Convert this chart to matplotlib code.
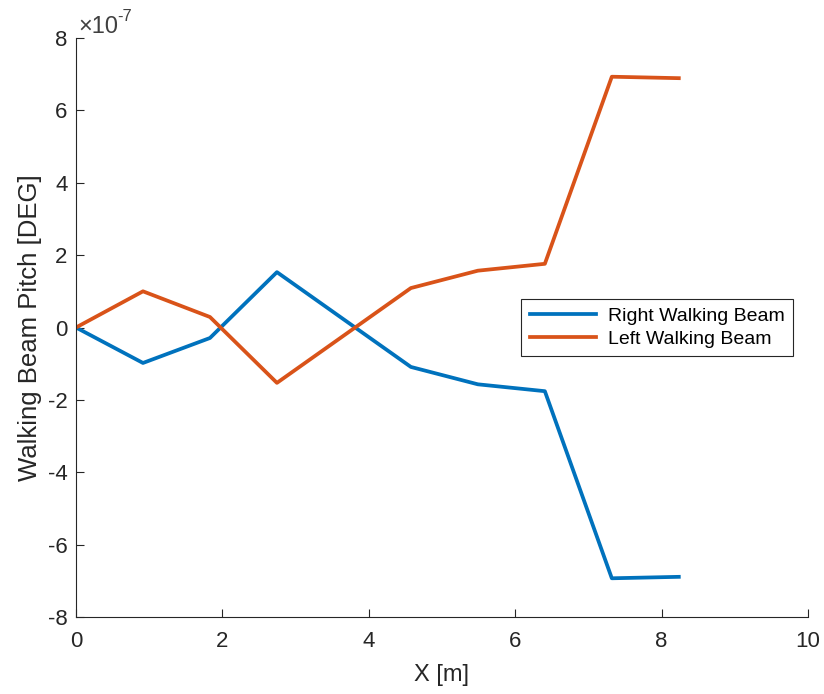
import matplotlib
matplotlib.use('Agg')
import matplotlib.pyplot as plt
from matplotlib.ticker import FuncFormatter

# data
x_m = [0, 0.915, 1.83, 2.745, 4.575, 5.49, 6.405, 7.32, 8.235]
right_beam = [0, -0.98e-7, -0.29e-7, 1.53e-7, -1.09e-7, -1.57e-7, -1.76e-7, -6.93e-7, -6.89e-7]
left_beam = [0, 1.0e-7, 0.29e-7, -1.53e-7, 1.09e-7, 1.57e-7, 1.76e-7, 6.93e-7, 6.89e-7]

plt.rcParams['font.family'] = ['Liberation Sans', 'DejaVu Sans']
plt.rcParams['axes.unicode_minus'] = False

W, H = 824, 694
fig = plt.figure(figsize=(W / 100, H / 100), dpi=100)
ax = fig.add_axes([76 / W, 1 - 617 / H, 732 / W, 579 / H])

ax.plot(x_m, right_beam, color='#0072BD', lw=2.7, label='Right Walking Beam')
ax.plot(x_m, left_beam, color='#D95319', lw=2.7, label='Left Walking Beam')

ax.set_xlim(0, 10)
ax.set_ylim(-8e-7, 8e-7)
ax.set_xticks(range(0, 11, 2))
ax.set_yticks([v * 1e-7 for v in range(-8, 9, 2)])
ax.yaxis.set_major_formatter(FuncFormatter(lambda v, p: '%g' % round(v / 1e-7, 6)))

# MATLAB-style exponent label above the y axis
fig.text(78 / W, 1 - 33 / H, '\u00d710', fontsize=17, color='#404040', va='baseline')
fig.text(117 / W, 1 - 21 / H, '-7', fontsize=12, color='#404040', va='baseline')

for side in ['top', 'right']:
    ax.spines[side].set_visible(False)
for side in ['left', 'bottom']:
    ax.spines[side].set_color('#262626')
    ax.spines[side].set_linewidth(0.8)
ax.tick_params(direction='in', length=6, width=0.8, colors='#262626', labelsize=16)
ax.tick_params(axis='x', pad=10)
ax.tick_params(axis='y', pad=6)

ax.set_xlabel('X [m]', fontsize=17, color='#262626', labelpad=9)
ax.set_ylabel('Walking Beam Pitch [DEG]', fontsize=18.5, color='#262626', labelpad=4)

leg = ax.legend(loc='center left', bbox_to_anchor=(0.608, 0.5), fontsize=14,
                fancybox=False, edgecolor='#262626', framealpha=1,
                handlelength=3.4, handletextpad=0.6, borderpad=0.45,
                labelspacing=0.25, borderaxespad=0)
leg.get_frame().set_linewidth(0.8)

plt.savefig('out.png', dpi=100)
